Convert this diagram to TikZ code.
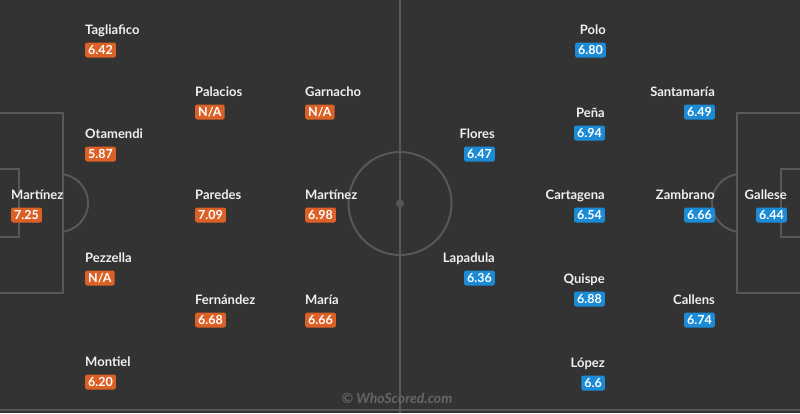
\documentclass[tikz,border=0pt]{standalone}
\usepackage{fontspec}
\setmainfont{Lato}
\definecolor{pitchbg}{RGB}{51,51,51}
\definecolor{pitchline}{RGB}{88,88,88}
\definecolor{teamA}{RGB}{219,97,38}
\definecolor{teamB}{RGB}{28,139,214}
\definecolor{markgray}{RGB}{102,102,102}

\begin{document}
\begin{tikzpicture}[x=1pt,y=-1pt]
		\tikzset{pitch/.style = {draw=pitchline, line width=2pt},
			player/.style = {text=white!94!black, font=\bfseries\fontsize{13}{15}\selectfont, inner sep=0pt},
			playerA/.style = {player, anchor=base west},
			playerB/.style = {player, anchor=base east},
			rating/.style = {text=white, font=\bfseries\fontsize{12.5}{14}\selectfont, rounded corners=2pt, inner xsep=3pt, inner ysep=3pt, text height=9pt, text depth=0pt},
			ratingA/.style = {rating, fill=teamA, anchor=west},
			ratingB/.style = {rating, fill=teamB, anchor=east},
			watermark/.style = {text=markgray, font=\bfseries\itshape\fontsize{14}{16}\selectfont, inner sep=0pt}}

		\fill[pitchbg] (0,0) rectangle (800,413);
		\useasboundingbox (0,0) rectangle (800,413);

		\draw[pitch] (400,0) -- (400,413);
		\draw[pitch] (0,410) -- (800,410);
		\draw[pitch] (400,203.5) circle[radius=51.5];
		\fill[pitchline] (400,203.5) circle[radius=4];

		\draw[pitch] (0,113) -- (63,113) -- (63,293) -- (0,293);
		\draw[pitch] (0,169) -- (19,169) -- (19,237) -- (0,237);
		\begin{scope}
			\clip (63,0) rectangle (120,413);
			\draw[pitch] (59,203) circle[radius=29];
		\end{scope}

		\draw[pitch] (800,113) -- (737,113) -- (737,293) -- (800,293);
		\draw[pitch] (800,169) -- (781,169) -- (781,237) -- (800,237);
		\begin{scope}
			\clip (680,0) rectangle (737,413);
			\draw[pitch] (741,203) circle[radius=29];
		\end{scope}


		\node[playerA] (A_1) at (11,199) {Martínez};
		\node[playerA] (A_2) at (85,34) {Tagliafico};
		\node[playerA] (A_3) at (85,138) {Otamendi};
		\node[playerA] (A_4) at (85,262) {Pezzella};
		\node[playerA] (A_5) at (85,366) {Montiel};
		\node[playerA] (A_6) at (195,96) {Palacios};
		\node[playerA] (A_7) at (305,96) {Garnacho};
		\node[playerA] (A_8) at (195,199) {Paredes};
		\node[playerA] (A_9) at (305,199) {Martínez};
		\node[playerA] (A_10) at (195,304) {Fernández};
		\node[playerA] (A_11) at (305,304) {María};

		\node[ratingA] (a_1) at (11,215) {7.25};
		\node[ratingA] (a_2) at (85,50) {6.42};
		\node[ratingA] (a_3) at (85,154) {5.87};
		\node[ratingA] (a_4) at (85,278) {N/A};
		\node[ratingA] (a_5) at (85,382) {6.20};
		\node[ratingA] (a_6) at (195,112) {N/A};
		\node[ratingA] (a_7) at (305,112) {N/A};
		\node[ratingA] (a_8) at (195,215) {7.09};
		\node[ratingA] (a_9) at (305,215) {6.98};
		\node[ratingA] (a_10) at (195,320) {6.68};
		\node[ratingA] (a_11) at (305,320) {6.66};


		\node[playerB] (B_1) at (787,199) {Gallese};
		\node[playerB] (B_2) at (606,34) {Polo};
		\node[playerB] (B_3) at (715,96) {Santamaría};
		\node[playerB] (B_4) at (715,199) {Zambrano};
		\node[playerB] (B_5) at (715,304) {Callens};
		\node[playerB] (B_6) at (605,117) {Peña};
		\node[playerB] (B_7) at (605,199) {Cartagena};
		\node[playerB] (B_8) at (605,283) {Quispe};
		\node[playerB] (B_9) at (605,367) {López};
		\node[playerB] (B_10) at (495,138) {Flores};
		\node[playerB] (B_11) at (495,262) {Lapadula};

		\node[ratingB] (b_1) at (787,215) {6.44};
		\node[ratingB] (b_2) at (606,50) {6.80};
		\node[ratingB] (b_3) at (715,112) {6.49};
		\node[ratingB] (b_4) at (715,215) {6.66};
		\node[ratingB] (b_5) at (715,320) {6.74};
		\node[ratingB] (b_6) at (605,133) {6.94};
		\node[ratingB] (b_7) at (605,215) {6.54};
		\node[ratingB] (b_8) at (605,299) {6.88};
		\node[ratingB] (b_9) at (605,383) {6.6};
		\node[ratingB] (b_10) at (495,154) {6.47};
		\node[ratingB] (b_11) at (495,278) {6.36};


		\node[watermark] (W) at (397,398) {© WhoScored.com};

	\end{tikzpicture}
\end{document}
